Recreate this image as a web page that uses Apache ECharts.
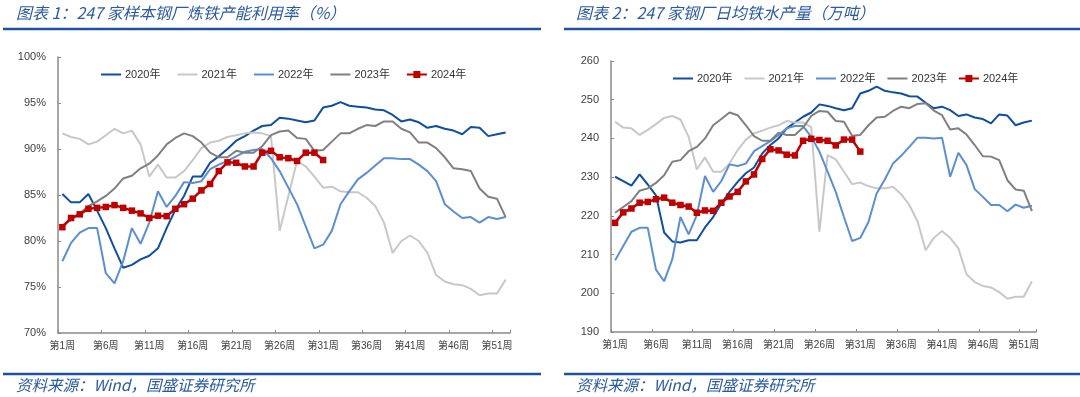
<!DOCTYPE html>
<html>
<head>
<meta charset="utf-8">
<script src="https://cdn.jsdelivr.net/npm/echarts@6/dist/echarts.min.js"></script>
<style>
  html, body { margin: 0; padding: 0; background: #fff; }
  #chart { width: 1080px; height: 397px; }
</style>
</head>
<body>
<div id="chart"></div>
<script>
// 周次
var weeks = ['第1周','第2周','第3周','第4周','第5周','第6周','第7周','第8周','第9周','第10周',
  '第11周','第12周','第13周','第14周','第15周','第16周','第17周','第18周','第19周','第20周',
  '第21周','第22周','第23周','第24周','第25周','第26周','第27周','第28周','第29周','第30周',
  '第31周','第32周','第33周','第34周','第35周','第36周','第37周','第38周','第39周','第40周',
  '第41周','第42周','第43周','第44周','第45周','第46周','第47周','第48周','第49周','第50周',
  '第51周','第52周'];
var years = ['2020年', '2021年', '2022年', '2023年', '2024年'];

// 图表1：产能利用率（%）
var util2020 = [85.1,84.2,84.2,85.1,83.3,81.4,79.2,77.1,77.4,78.0,78.4,79.2,81.4,83.4,84.9,87.0,87.0,88.5,89.2,90.0,90.9,91.4,92.0,92.5,92.6,93.4,93.3,93.1,92.9,93.1,94.5,94.7,95.1,94.7,94.6,94.5,94.3,94.2,93.7,93.0,93.2,92.9,92.3,92.5,92.2,92.0,91.6,92.4,92.3,91.4,91.6,91.8];
var util2021 = [91.7,91.3,91.1,90.5,90.8,91.5,92.2,91.7,92.0,90.5,87.0,88.3,86.9,86.9,87.6,88.8,90.1,90.7,90.9,91.3,91.5,91.7,91.8,91.7,91.4,81.1,84.9,88.7,88.1,87.0,85.8,85.9,85.4,85.3,85.3,84.7,83.8,82.0,78.7,80.0,80.6,80.0,78.7,76.3,75.6,75.3,75.2,74.8,74.1,74.3,74.3,75.8];
var util2022 = [77.8,79.8,80.9,81.4,81.4,76.5,75.4,77.8,81.4,79.7,82.0,85.4,83.7,84.9,86.4,86.3,86.5,87.8,88.3,88.7,89.2,89.7,89.9,90.0,89.0,87.6,85.8,84.0,81.6,79.2,79.6,81.1,84.0,85.4,86.7,87.4,88.2,89.0,89.0,88.9,88.9,88.3,87.6,86.5,84.0,83.2,82.5,82.6,82.0,82.6,82.4,82.6];
var util2023 = [81.7,82.3,83.0,83.8,84.3,84.9,85.7,86.8,87.1,87.9,88.4,89.3,90.5,91.2,91.7,91.4,90.7,89.6,89.1,89.1,89.8,89.6,89.6,90.3,91.5,91.9,92.0,91.2,91.1,89.8,89.9,90.8,91.7,91.7,92.2,92.6,92.5,93.0,93.0,92.2,91.8,90.7,90.7,90.1,89.1,87.9,87.8,87.6,85.7,84.8,84.6,82.6];
var util2024 = [81.5,82.5,82.9,83.5,83.6,83.7,83.9,83.6,83.3,83.0,82.5,82.75,82.7,83.5,84.0,84.6,85.5,86.2,87.6,88.55,88.5,88.1,88.1,89.6,89.8,89.1,89.0,88.7,89.6,89.6,88.8];

// 图表2：日均铁水产量（万吨）
var iron2020 = [230.1,229.0,227.8,230.7,228.1,225.3,215.7,213.4,213.1,213.7,213.7,217.0,219.7,223.2,226.2,228.8,231.0,232.5,236.1,238.3,240.0,242.6,244.1,245.6,246.7,248.8,248.4,247.8,247.3,247.8,251.6,252.3,253.4,252.3,251.9,251.6,250.9,250.8,249.2,247.8,248.2,247.3,245.8,246.2,245.4,245.0,243.9,246.2,245.9,243.4,244.1,244.6];
var iron2021 = [244.3,242.8,242.6,240.9,242.2,243.7,245.3,245.8,244.9,240.4,232.0,235.1,231.4,231.4,233.5,237.0,239.7,241.3,242.0,242.8,243.4,244.5,244.1,244.1,242.9,215.9,235.7,234.6,231.4,228.2,228.6,227.7,227.1,227.1,227.5,225.6,222.8,218.6,211.1,214.3,216.1,214.3,211.6,204.9,202.9,201.9,201.5,200.3,198.6,199.1,199.1,203.1];
var iron2022 = [208.5,212.2,215.9,216.9,216.9,206.1,203.1,208.8,219.7,215.2,220.2,230.3,226.2,229.0,233.3,232.9,233.5,236.7,238.0,239.3,240.9,242.6,243.2,243.2,240.4,236.6,231.4,226.2,219.7,213.5,214.3,218.4,225.8,229.4,233.5,235.5,237.8,240.2,240.2,240.0,240.2,230.1,236.3,233.1,226.9,224.9,222.8,222.8,221.2,222.9,222.1,222.6];
var iron2023 = [220.8,222.3,223.8,226.5,227.1,228.5,230.5,234.0,234.4,236.7,237.8,240.0,243.4,245.0,246.7,246.0,243.4,240.6,239.4,239.4,241.5,240.9,240.9,242.8,245.8,247.1,246.9,244.5,244.3,240.7,240.9,243.4,245.4,245.6,247.1,248.2,247.8,248.9,249.1,247.2,246.0,242.3,242.6,241.0,238.3,235.4,235.3,234.4,229.2,226.8,226.5,221.2];
var iron2024 = [218.2,220.9,221.9,223.4,223.6,224.3,224.7,223.4,222.8,222.4,220.8,221.4,221.3,223.4,225.0,226.2,228.9,230.7,234.7,237.2,236.9,235.8,235.6,239.4,239.9,239.6,239.4,238.2,239.7,239.7,236.6];

var colors = ['#0f4ea3', '#c8c8c8', '#5b8fd2', '#808080', '#c00000'];
var blue = '#2a5aa6';
var labelFont = "'Liberation Sans', 'Noto Sans CJK SC', sans-serif";
var titleFont = "'Noto Sans CJK SC', 'Liberation Sans', sans-serif";

// 图例图标：细线（四角放极小点，撑满 20x7 的框）和 线+方块
var lineIcon = 'path://M0,0h0.01v0.01h-0.01z M0,2.6H20V4.4H0Z M19.99,6.99h0.01v0.01h-0.01z';
var markIcon = 'path://M0,2.6H6.5V0H13.5V2.6H20V4.4H13.5V7H6.5V4.4H0Z';

var chart = echarts.init(document.getElementById('chart'), null, { renderer: 'canvas' });

function xAxisOf(grid) {
  return {
    type: 'category', gridIndex: grid, data: weeks, boundaryGap: true,
    axisLine: { lineStyle: { color: '#8a8a8a', width: 1.5 } },
    axisTick: { show: true, inside: true, length: 3, interval: 4, lineStyle: { color: '#8a8a8a' } },
    axisLabel: { interval: 4, color: '#404040', fontSize: 10, fontFamily: labelFont, margin: 8 },
    splitLine: { show: false }
  };
}
function yAxisOf(grid, min, max, step, fmt) {
  return {
    type: 'value', gridIndex: grid, min: min, max: max, interval: step,
    axisLine: { show: true, lineStyle: { color: '#8a8a8a', width: 1.5 } },
    axisTick: { show: true, inside: true, length: 3, lineStyle: { color: '#8a8a8a' } },
    axisLabel: { color: '#404040', fontSize: 11, fontFamily: labelFont, margin: 12, formatter: fmt },
    splitLine: { show: false }
  };
}
function lineOf(name, data, i, grid) {
  var s = {
    name: name, type: 'line', data: data, xAxisIndex: grid, yAxisIndex: grid,
    symbol: 'none', smooth: false, animation: false,
    lineStyle: { color: colors[i], width: 2 },
    itemStyle: { color: colors[i] },
    z: 2 + i
  };
  if (i === 4) {
    s.symbol = 'rect';
    s.symbolSize = 6.5;
    s.showSymbol = true;
    s.showAllSymbol = true;
    s.lineStyle.width = 2.5;
  }
  return s;
}
function legendOf(left, top, gap) {
  return {
    left: left, top: top, itemGap: gap, itemWidth: 20, itemHeight: 7,
    selectedMode: false,
    data: years.map(function (y, i) { return { name: y, icon: i === 4 ? markIcon : lineIcon }; }),
    textStyle: { color: '#333', fontSize: 11, fontFamily: labelFont, padding: [0, 0, 0, -1] }
  };
}

var utilSets = [util2020, util2021, util2022, util2023, util2024];
var ironSets = [iron2020, iron2021, iron2022, iron2023, iron2024];
var series = [];
years.forEach(function (y, i) { series.push(lineOf(y, utilSets[i], i, 0)); });
years.forEach(function (y, i) { series.push(lineOf(y, ironSets[i], i, 1)); });

function txt(x, y, s, size) {
  return {
    type: 'text', x: x, y: y,
    style: { text: s, fill: blue, font: 'italic ' + size + 'px ' + titleFont, textVerticalAlign: 'middle' }
  };
}
function rule(x1, x2, y) {
  return { type: 'line', shape: { x1: x1, y1: y, x2: x2, y2: y }, style: { stroke: '#1d52a3', lineWidth: 2.5 } };
}

chart.setOption({
  animation: false,
  grid: [
    { left: 58, top: 57, width: 452, height: 276 },
    { left: 611, top: 61, width: 425, height: 271 }
  ],
  legend: [legendOf(96, 64, 17), legendOf(668, 68, 12)],
  xAxis: [xAxisOf(0), xAxisOf(1)],
  yAxis: [
    yAxisOf(0, 70, 100, 5, '{value}%'),
    yAxisOf(1, 190, 260, 10, '{value}')
  ],
  series: series,
  graphic: [
    txt(16, 13, '图表 1：247 家样本钢厂炼铁产能利用率（%）', 16),
    txt(576, 13, '图表 2：247 家钢厂日均铁水产量（万吨）', 16),
    rule(3, 541, 29),
    rule(564, 1080, 29),
    rule(3, 541, 374),
    rule(564, 1080, 374),
    txt(16, 385, '资料来源：Wind，国盛证券研究所', 15.5),
    txt(576, 385, '资料来源：Wind，国盛证券研究所', 15.5)
  ]
});
</script>
</body>
</html>
